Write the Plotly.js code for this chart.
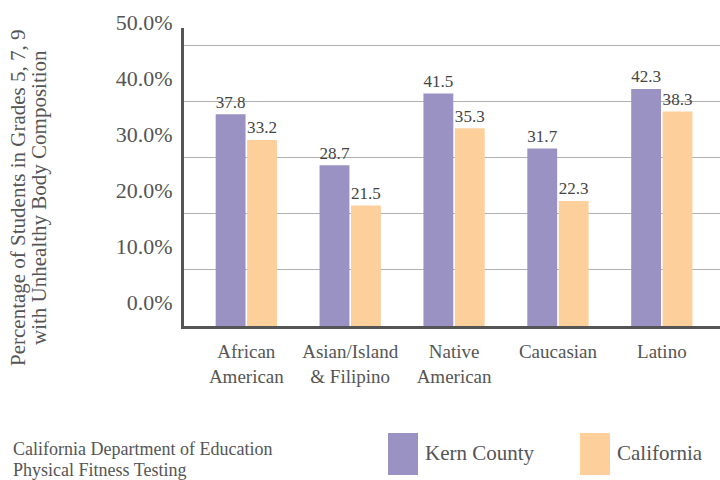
<!DOCTYPE html>
<html>
<head>
<meta charset="utf-8">
<script src="https://cdn.plot.ly/plotly-3.0.1.min.js"></script>
<style>
  html, body { margin: 0; padding: 0; background: #fff; }
  #chart { width: 720px; height: 480px; }
</style>
</head>
<body>
<div id="chart"></div>
<script>
// Unhealthy body composition, grades 5, 7, 9 (percent)
const groups = ['African<br>American', 'Asian/Island<br>& Filipino', 'Native<br>American', 'Caucasian', 'Latino'];
const kernCounty = [37.8, 28.7, 41.5, 31.7, 42.3];
const california = [33.2, 21.5, 35.3, 22.3, 38.3];
const yTicks = [0, 10, 20, 30, 40, 50];
const yTickText = ['0.0%', '10.0%', '20.0%', '30.0%', '40.0%', '50.0%'];

const seriesNames = ['Kern County', 'California'];
const colors = ['#9a92c2', '#fccf9b'];
const serif = 'Liberation Serif, DejaVu Serif, serif';

// plot area in pixels
const W = 720, H = 480;
const mLeft = 184, mTop = 28, mBottom = 154;
const plotW = W - mLeft, plotH = H - mTop - mBottom;
const px2x = px => (px - mLeft) / plotW;
const px2y = py => (H - mBottom - py) / plotH;

const idx = groups.map((g, i) => i);

const traces = [kernCounty, california].map((vals, k) => ({
    type: 'bar',
    name: seriesNames[k],
    x: idx,
    y: vals,
    marker: { color: colors[k] },
    text: vals.map(v => v.toFixed(1)),
    textposition: 'outside',
    textfont: { family: serif, size: 19, color: '#444' },
    cliponaxis: false,
    hoverinfo: 'name+y'
}));

// legend drawn by hand so the swatches are big blocks like the original
const legendShapes = [
    { x0: 388, x1: 418 },
    { x0: 580, x1: 610 }
].map((s, k) => ({
    type: 'rect', xref: 'paper', yref: 'paper',
    x0: px2x(s.x0), x1: px2x(s.x1), y0: px2y(475), y1: px2y(433),
    fillcolor: colors[k], line: { width: 0 }
}));

function label(text, x, y, size, opts) {
    return Object.assign({
        text: text,
        xref: 'paper', yref: 'paper',
        x: px2x(x), y: px2y(y),
        xanchor: 'left', yanchor: 'middle',
        showarrow: false,
        font: { family: serif, size: size, color: '#555' }
    }, opts || {});
}

const layout = {
    width: W,
    height: H,
    margin: { l: mLeft, r: 0, t: mTop, b: mBottom },
    paper_bgcolor: '#fff',
    plot_bgcolor: '#fff',
    showlegend: false,
    barmode: 'group',
    bargap: 0.395,
    bargroupgap: 0.05,
    font: { family: serif, color: '#555' },
    xaxis: {
        tickmode: 'array',
        tickvals: idx,
        ticktext: groups,
        range: [-0.6, 4.56],
        showline: true,
        linewidth: 3,
        linecolor: '#555',
        showgrid: false,
        zeroline: false,
        ticks: '',
        ticklabelstandoff: 6,
        tickfont: { family: serif, size: 19, color: '#555' },
        fixedrange: true
    },
    yaxis: {
        range: [0, 53.2],
        tickmode: 'array',
        tickvals: yTicks,
        ticktext: yTickText,
        showline: true,
        linewidth: 3,
        linecolor: '#555',
        showgrid: true,
        gridcolor: '#b0b0b0',
        gridwidth: 1,
        zeroline: false,
        ticks: '',
        ticklabelshift: -24,
        ticklabelstandoff: 4,
        tickfont: { family: serif, size: 22, color: '#555' },
        fixedrange: true
    },
    shapes: legendShapes,
    annotations: [
        label('Percentage of Students in Grades 5, 7, 9', 18, 198, 21,
              { textangle: -90, xanchor: 'center' }),
        label('with Unhealthy Body Composition', 39, 198, 21,
              { textangle: -90, xanchor: 'center' }),
        label('California Department of Education', 11, 449, 18),
        label('Physical Fitness Testing', 11, 470, 18),
        label(seriesNames[0], 423, 453, 21),
        label(seriesNames[1], 615, 453, 21)
    ]
};

Plotly.newPlot('chart', traces, layout, { displayModeBar: false, staticPlot: true });
</script>
</body>
</html>
